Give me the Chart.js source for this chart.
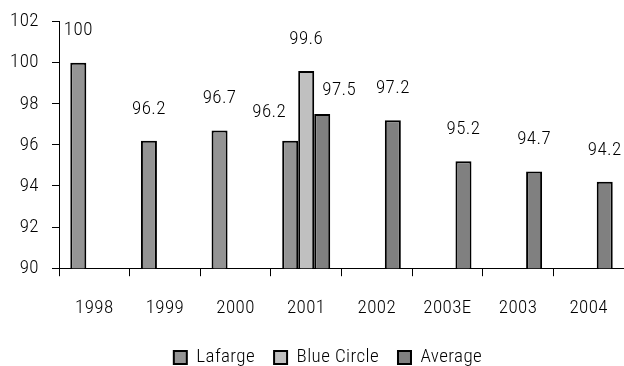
<!DOCTYPE html>
<html>
<head>
<meta charset="utf-8">
<script src="https://cdn.jsdelivr.net/npm/chart.js@4.4.1/dist/chart.umd.min.js"></script>
<style>
  html, body { margin: 0; padding: 0; background: #fff; overflow: hidden; }
  #wrap { width: 629px; height: 366px; }
</style>
</head>
<body>
<div id="wrap"><canvas id="grafico"></canvas></div>
<script>
// Dados
const anos = ['1998', '1999', '2000', '2001', '2002', '2003E', '2003', '2004'];
const lafarge = [100, 96.2, 96.7, 96.2, null, null, null, null];
const blueCircle = [null, null, null, 99.6, null, null, null, null];
const media = [null, null, null, 97.5, 97.2, 95.2, 94.7, 94.2];
const nomesSeries = ['Lafarge', 'Blue Circle', 'Average'];
const coresSeries = ['#949494', '#c0c0c0', '#808080'];

const fonte = "'Roboto Condensed', 'Liberation Sans Narrow', sans-serif";
const tamanhoFonte = 19;
const pesoFonte = 300;
const espacamento = '0.4px';

// Espaçamento entre letras (o canvas perde o estado ao redimensionar)
const espacoLetras = {
    id: 'espacoLetras',
    beforeUpdate(chart) { chart.ctx.letterSpacing = espacamento; },
    beforeDraw(chart) { chart.ctx.letterSpacing = espacamento; }
};

// Rótulos de valor acima das barras
const rotulos = {
    id: 'rotulos',
    afterDatasetsDraw(chart) {
        const ctx = chart.ctx;
        ctx.save();
        ctx.font = pesoFonte + ' ' + tamanhoFonte + 'px ' + fonte;
        ctx.fillStyle = '#000';
        ctx.textAlign = 'center';
        ctx.textBaseline = 'middle';
        chart.data.datasets.forEach((ds, i) => {
            chart.getDatasetMeta(i).data.forEach((barra, j) => {
                const valor = ds.data[j];
                if (valor == null) return;
                // grupo com mais de uma barra: afastar os rótulos
                const cheio = chart.data.datasets.filter(d => d.data[j] != null).length > 1;
                let dx = 0, dy = 32;
                if (cheio && i === 0) { dx = -21; dy = 29; }
                if (cheio && i === 2) { dx = 17; dy = 24; }
                ctx.fillText(String(valor), barra.x + dx, barra.y - dy);
            });
        });
        ctx.restore();
    }
};

// Legenda um pouco deslocada para a direita
const ajusteLegenda = {
    id: 'ajusteLegenda',
    afterLayout(chart) {
        const desloc = 8;
        chart.legend.left += desloc;
        chart.legend.right += desloc;
    }
};

const ctx = document.getElementById('grafico').getContext('2d');
const series = [lafarge, blueCircle, media];
const fonteEixos = { family: fonte, size: tamanhoFonte, weight: pesoFonte };

new Chart(ctx, {
    type: 'bar',
    data: {
        labels: anos,
        datasets: series.map((dados, i) => ({
            label: nomesSeries[i],
            data: dados,
            backgroundColor: coresSeries[i],
            borderColor: '#000',
            borderWidth: 2,
            categoryPercentage: 0.68,
            barPercentage: 1.0
        }))
    },
    options: {
        responsive: true,
        maintainAspectRatio: false,
        animation: false,
        layout: {
            padding: { top: 3, left: 11, right: 0, bottom: -11 }
        },
        plugins: {
            legend: {
                position: 'bottom',
                labels: {
                    color: '#000',
                    font: fonteEixos,
                    boxWidth: 13,
                    boxHeight: 13,
                    padding: 19
                }
            },
            tooltip: { enabled: false }
        },
        scales: {
            x: {
                grid: {
                    drawOnChartArea: false,
                    drawTicks: true,
                    tickLength: 8,
                    color: '#000',
                    offset: true
                },
                border: { color: '#000', width: 1 },
                ticks: {
                    color: '#000',
                    font: fonteEixos,
                    padding: 21,
                    maxRotation: 0
                },
                afterFit(scale) { scale.height -= 12; }
            },
            y: {
                min: 90,
                max: 102,
                grid: {
                    drawOnChartArea: false,
                    drawTicks: true,
                    tickLength: 7,
                    color: '#000'
                },
                border: { color: '#000', width: 1 },
                ticks: {
                    stepSize: 2,
                    color: '#000',
                    font: { family: fonte, size: tamanhoFonte, weight: pesoFonte, lineHeight: 0.9 },
                    padding: 13
                },
                afterFit(scale) { scale.width = 48; }
            }
        }
    },
    plugins: [espacoLetras, rotulos, ajusteLegenda]
});
</script>
</body>
</html>
